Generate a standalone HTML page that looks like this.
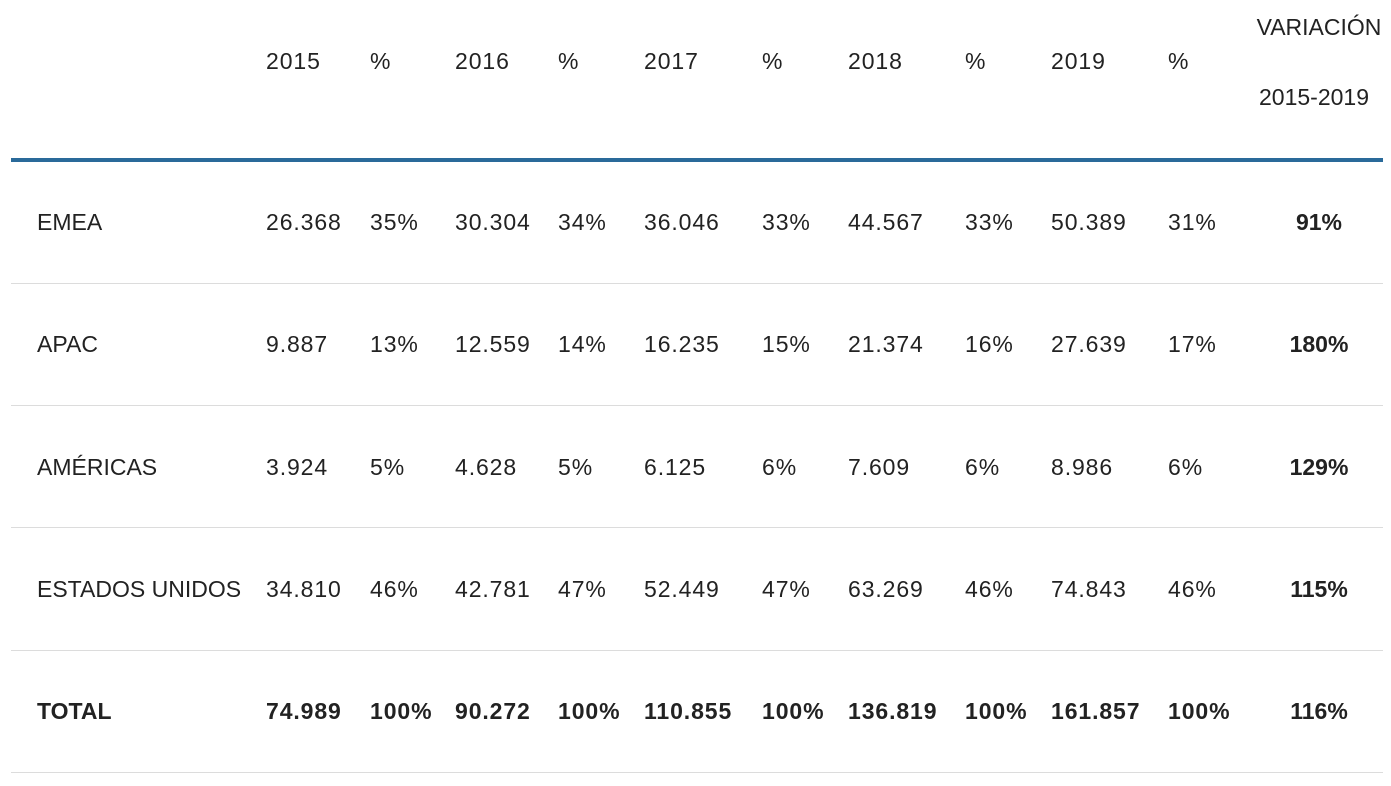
<!DOCTYPE html>
<html><head><meta charset="utf-8"><style>
body{margin:0;width:1391px;height:786px;background:#fff;position:relative;overflow:hidden;font-family:"Liberation Sans",sans-serif;font-size:23px;color:#222}
.t{position:absolute;line-height:24px;white-space:nowrap;letter-spacing:0.9px}
.l{letter-spacing:0}
.b{font-weight:bold}
.c{text-align:center;width:140px;margin-left:-70px;letter-spacing:0}
.hl{position:absolute;left:11px;width:1372px;height:1px;background:#dcdcdc}
</style></head><body>
<div style="position:absolute;left:11px;top:158px;width:1372px;height:4px;background:#2a6a9a"></div>
<div class="hl" style="top:283px"></div>
<div class="hl" style="top:405px"></div>
<div class="hl" style="top:527px"></div>
<div class="hl" style="top:650px"></div>
<div class="hl" style="top:772px"></div>

<div class="t" style="left:266px;top:49px">2015</div>
<div class="t" style="left:370px;top:49px">%</div>
<div class="t" style="left:455px;top:49px">2016</div>
<div class="t" style="left:558px;top:49px">%</div>
<div class="t" style="left:644px;top:49px">2017</div>
<div class="t" style="left:762px;top:49px">%</div>
<div class="t" style="left:848px;top:49px">2018</div>
<div class="t" style="left:965px;top:49px">%</div>
<div class="t" style="left:1051px;top:49px">2019</div>
<div class="t" style="left:1168px;top:49px">%</div>
<div class="t c" style="left:1319px;top:15px">VARIACIÓN</div>
<div class="t c" style="left:1314px;top:85px">2015-2019</div>

<div class="t l" style="left:37px;top:210px">EMEA</div>
<div class="t" style="left:266px;top:210px">26.368</div>
<div class="t" style="left:370px;top:210px">35%</div>
<div class="t" style="left:455px;top:210px">30.304</div>
<div class="t" style="left:558px;top:210px">34%</div>
<div class="t" style="left:644px;top:210px">36.046</div>
<div class="t" style="left:762px;top:210px">33%</div>
<div class="t" style="left:848px;top:210px">44.567</div>
<div class="t" style="left:965px;top:210px">33%</div>
<div class="t" style="left:1051px;top:210px">50.389</div>
<div class="t" style="left:1168px;top:210px">31%</div>
<div class="t c b" style="left:1319px;top:210px">91%</div>

<div class="t l" style="left:37px;top:332px">APAC</div>
<div class="t" style="left:266px;top:332px">9.887</div>
<div class="t" style="left:370px;top:332px">13%</div>
<div class="t" style="left:455px;top:332px">12.559</div>
<div class="t" style="left:558px;top:332px">14%</div>
<div class="t" style="left:644px;top:332px">16.235</div>
<div class="t" style="left:762px;top:332px">15%</div>
<div class="t" style="left:848px;top:332px">21.374</div>
<div class="t" style="left:965px;top:332px">16%</div>
<div class="t" style="left:1051px;top:332px">27.639</div>
<div class="t" style="left:1168px;top:332px">17%</div>
<div class="t c b" style="left:1319px;top:332px">180%</div>

<div class="t l" style="left:37px;top:455px">AMÉRICAS</div>
<div class="t" style="left:266px;top:455px">3.924</div>
<div class="t" style="left:370px;top:455px">5%</div>
<div class="t" style="left:455px;top:455px">4.628</div>
<div class="t" style="left:558px;top:455px">5%</div>
<div class="t" style="left:644px;top:455px">6.125</div>
<div class="t" style="left:762px;top:455px">6%</div>
<div class="t" style="left:848px;top:455px">7.609</div>
<div class="t" style="left:965px;top:455px">6%</div>
<div class="t" style="left:1051px;top:455px">8.986</div>
<div class="t" style="left:1168px;top:455px">6%</div>
<div class="t c b" style="left:1319px;top:455px">129%</div>

<div class="t l" style="left:37px;top:577px">ESTADOS UNIDOS</div>
<div class="t" style="left:266px;top:577px">34.810</div>
<div class="t" style="left:370px;top:577px">46%</div>
<div class="t" style="left:455px;top:577px">42.781</div>
<div class="t" style="left:558px;top:577px">47%</div>
<div class="t" style="left:644px;top:577px">52.449</div>
<div class="t" style="left:762px;top:577px">47%</div>
<div class="t" style="left:848px;top:577px">63.269</div>
<div class="t" style="left:965px;top:577px">46%</div>
<div class="t" style="left:1051px;top:577px">74.843</div>
<div class="t" style="left:1168px;top:577px">46%</div>
<div class="t c b" style="left:1319px;top:577px">115%</div>

<div class="t b l" style="left:37px;top:699px">TOTAL</div>
<div class="t b" style="left:266px;top:699px">74.989</div>
<div class="t b" style="left:370px;top:699px">100%</div>
<div class="t b" style="left:455px;top:699px">90.272</div>
<div class="t b" style="left:558px;top:699px">100%</div>
<div class="t b" style="left:644px;top:699px">110.855</div>
<div class="t b" style="left:762px;top:699px">100%</div>
<div class="t b" style="left:848px;top:699px">136.819</div>
<div class="t b" style="left:965px;top:699px">100%</div>
<div class="t b" style="left:1051px;top:699px">161.857</div>
<div class="t b" style="left:1168px;top:699px">100%</div>
<div class="t c b" style="left:1319px;top:699px">116%</div>
</body></html>
